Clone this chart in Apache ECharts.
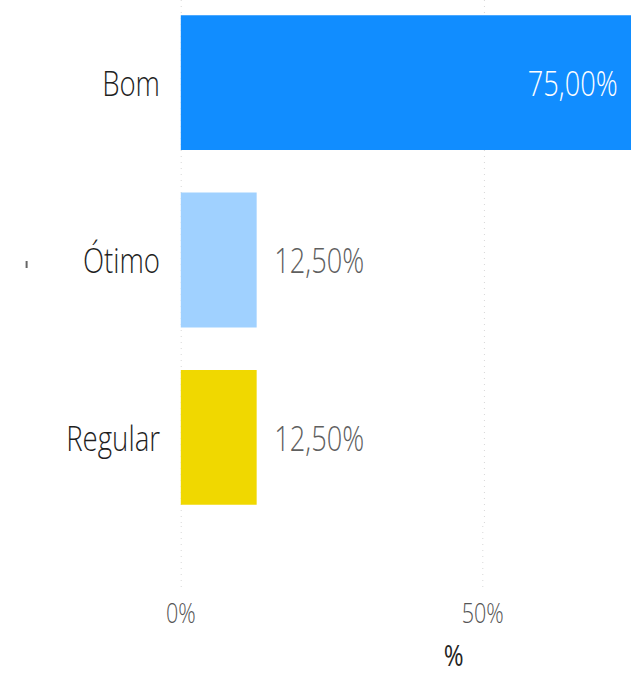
<!DOCTYPE html>
<html>
<head>
<meta charset="utf-8">
<script src="https://cdn.jsdelivr.net/npm/echarts@6/dist/echarts.min.js"></script>
<style>
  html, body { margin: 0; padding: 0; background: #ffffff; }
  #wrap { position: relative; width: 631px; height: 675px; overflow: hidden; }
  /* the chart is drawn wide and compressed horizontally (tall, narrow type);
     the plot also runs slightly past the top and right edges of the view */
  #chart {
    position: absolute; left: 0; top: -6px;
    width: 795px; height: 681px;
    transform: scaleX(0.8); transform-origin: 0 0;
  }
</style>
</head>
<body>
<div id="wrap"><div id="chart"></div></div>
<script>
// Rating categories and their share of responses (%)
const categories = ['Bom', 'Ótimo', 'Regular'];
const shares = [75, 12.5, 12.5];
const barColors = ['#118DFF', '#A0D1FF', '#F0D800'];
const axisTicks = [0, 50];

const FONT = 'Open Sans';
const WEIGHT = 350;
const fmtPct = v => v.toFixed(2).replace('.', ',') + '%';

const xCommon = {
  type: 'value',
  min: 0,
  max: 75,
  interval: 50,
  axisLine: { show: false },
  axisTick: { show: false },
  splitLine: { show: true, lineStyle: { color: '#D6D6D6', type: [1, 5], width: 1.2 } }
};

const chart = echarts.init(document.getElementById('chart'), null, { renderer: 'svg' });
chart.setOption({
  animation: false,
  backgroundColor: '#ffffff',
  grid: [
    { left: 226, right: 0, top: 0, height: 532 },
    // strip below the bars where the gridlines continue down to the tick labels
    { left: 226, right: 0, top: 532, height: 64 }
  ],
  xAxis: [
    Object.assign({ gridIndex: 0, axisLabel: { show: false } }, xCommon),
    Object.assign({
      gridIndex: 1,
      name: '%',
      nameLocation: 'middle',
      nameGap: 49,
      nameTextStyle: { fontFamily: FONT, fontWeight: 400, fontSize: 30, color: '#252423', padding: [0, 0, 0, 116] },
      axisLabel: {
        margin: 9,
        fontFamily: FONT,
        fontWeight: WEIGHT,
        fontSize: 27,
        color: '#555555',
        formatter: v => (axisTicks.includes(v) ? v + '%' : '')
      }
    }, xCommon)
  ],
  yAxis: [
    {
      gridIndex: 0,
      type: 'category',
      data: categories,
      inverse: true,
      axisLine: { show: false },
      axisTick: { show: false },
      axisLabel: { margin: 26, fontFamily: FONT, fontWeight: WEIGHT, fontSize: 34.5, color: '#1f1f1f', padding: [8, 0, 0, 0] }
    },
    { gridIndex: 1, type: 'category', data: [''], show: false }
  ],
  graphic: [
    { type: 'rect', left: 32, top: 267, shape: { width: 2.5, height: 7 }, style: { fill: '#666' } }
  ],
  series: [{
    type: 'bar',
    xAxisIndex: 0,
    yAxisIndex: 0,
    barCategoryGap: '24%',
    data: shares.map((v, i) => ({
      value: v,
      itemStyle: { color: barColors[i] },
      label: i === 0
        ? { position: 'insideRight', distance: 23, color: '#ffffff' }
        : { position: 'right', distance: 22, color: '#5f5f5f' }
    })),
    label: {
      show: true,
      fontFamily: FONT,
      fontWeight: WEIGHT,
      fontSize: 34,
      padding: [2, 0, 0, 0],
      formatter: p => fmtPct(p.value)
    }
  }]
});
</script>
</body>
</html>
